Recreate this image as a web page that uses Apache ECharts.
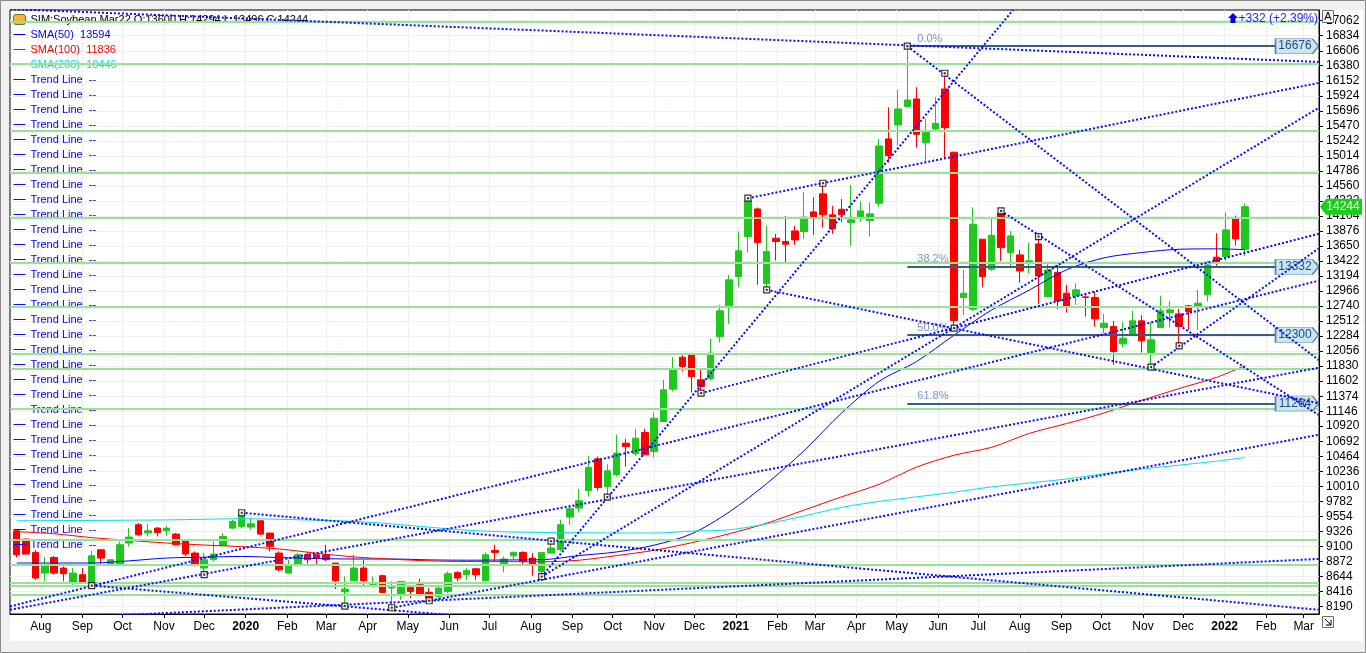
<!DOCTYPE html>
<html><head><meta charset="utf-8">
<script src="https://cdn.jsdelivr.net/npm/echarts@6/dist/echarts.min.js"></script>
<style>html,body{margin:0;padding:0;background:#f0f0f0;}#c{width:1366px;height:653px;}</style>
</head><body><div id="c"></div>
<script>
// ---------------- DATA ----------------
const firstCandle = '2019-07-14';   // weekly candles
const opens  = [9336,9210,9008,8695,8932,8771,8554,8670,8554,9048,8831,8831,9149,9427,9301,9376,9336,9285,9190,8998,8771,8897,9114,9376,9402,9391,9487,9301,8998,8695,8821,8973,8973,8973,8846,8412,8579,8771,8508,8655,8468,8382,8478,8518,8402,8342,8417,8705,8670,8760,8579,9038,8836,8957,9008,8922,8720,8998,9048,9543,9679,9946,10426,10007,10184,10663,10502,10825,10537,10991,11481,11965,12000,11622,11638,12278,12743,13187,13793,14211,13076,13768,13717,13878,13868,14166,14439,14121,14206,14005,14095,14035,14297,15271,15483,15760,15876,15215,15422,16028,15069,12868,12692,13752,13297,14145,13550,13514,13388,13681,12884,13247,12934,12894,12879,12868,12415,12430,12167,12293,12516,12036,12415,12642,12621,12743,12733,12909,13480,13489,14060,13600];
const highs  = [9361,9220,9048,8937,8957,8796,8771,8771,9033,9048,8897,9174,9376,9452,9442,9391,9412,9301,9200,9023,8998,9174,9301,9502,9609,9528,9487,9301,9023,8897,8998,9023,8973,9124,8846,8645,8973,8897,8645,8670,8569,8569,8518,8609,8468,8483,8720,8720,8771,8771,9008,9124,8947,9023,9023,8998,9008,9178,9502,9729,9972,10471,10461,10345,10789,10729,10880,10880,11127,11622,11965,12000,12000,11774,12243,12758,13212,13868,14373,14232,13954,13833,14106,13954,14469,14388,14600,14257,14363,14575,14323,14307,15271,15750,16013,16676,16053,15573,15902,16266,15080,13287,14236,13752,14085,14181,13878,13590,13701,13792,13378,13363,13060,13085,12934,12960,12621,12516,12495,12667,12601,12490,12894,12818,12697,12758,12985,13424,13843,14156,14110,14294];
const lows   = [8937,8975,8594,8569,8670,8569,8518,8544,8505,8821,8821,8821,9099,9260,9250,9250,9260,9124,8947,8796,8670,8872,9114,9361,9376,9351,9275,9023,8720,8685,8796,8836,8821,8872,8453,8195,8569,8503,8493,8392,8170,8291,8316,8342,8276,8301,8392,8569,8594,8594,8569,8871,8705,8897,8821,8654,8640,8998,9023,9426,9613,9856,9941,9846,10158,10310,10471,10486,10446,10991,11445,11748,11430,11420,11612,12188,12470,13020,13550,13061,12985,13429,13399,13666,13757,13818,13929,13833,14010,13651,14020,13793,14246,14912,15170,15745,15139,14912,15392,14978,12405,12606,12666,13020,13272,13424,13338,13095,13237,12772,12868,12697,12641,12757,12581,12430,12329,11849,12112,12293,12036,11814,12415,12415,12137,12379,12379,12808,13348,13424,13656,13496];
const closes = [8973,8983,8619,8821,8695,8685,8695,8554,8957,8922,8897,9124,9240,9275,9336,9311,9376,9124,8983,8821,8897,8983,9250,9477,9578,9442,9285,9099,8745,8806,8973,8897,8922,8897,8579,8453,8771,8579,8518,8402,8478,8569,8417,8367,8316,8468,8685,8619,8735,8670,8973,9008,8907,9008,8871,8811,9008,9074,9427,9669,9790,10295,9992,10244,10512,10613,10739,10486,11041,11471,11783,11824,11672,11522,12026,12667,13137,13576,14333,13702,13565,13717,13677,13742,14085,14095,14121,13909,14121,14045,14181,14136,15165,15018,15725,15861,15341,15372,15508,15442,12520,12934,13979,13186,13812,13625,13802,13272,13424,13196,13287,12818,12732,12985,12869,12545,12480,12051,12253,12516,12213,12228,12667,12682,12430,12657,12783,13363,13399,13893,13757,14244];

// moving averages, read at every 4th candle (candle index)
const smaIdx = [0,4,8,12,16,20,24,28,32,36,40,44,48,52,56,60,64,68,72,76,80,84,88,92,96,100,104,108,112,116,120,124,128,131];
const sma50  = [8847,8847,8847,8880,8923,8935,8947,8930,8915,8908,8908,8895,8890,8893,8897,8960,9015,9118,9290,9620,10050,10550,11120,11600,11900,12300,12680,12980,13290,13470,13550,13600,13606,13594];
const sma100 = [9322,9290,9232,9190,9150,9120,9095,9060,8995,8940,8905,8880,8870,8868,8866,8890,8960,9040,9155,9290,9450,9650,9850,10040,10300,10480,10600,10810,10960,11120,11310,11490,11660,11836];
const sma200 = [9488,9490,9492,9496,9500,9510,9518,9510,9495,9478,9440,9390,9345,9320,9310,9305,9302,9301,9330,9350,9440,9560,9690,9780,9850,9920,10000,10060,10120,10200,10270,10330,10390,10446];

// horizontal support / resistance levels (green)
const greenLevels = [17045,16406,15392,14752,14070,13394,12723,12023,11797,11179,9194,8814,8547,8503,8367];
// fibonacci retracement (start candle index, level, label)
const fibStartIdx = 95;
const fibLevels = [16676,13332,12300,11264];
const fibNames  = ['0.0%','38.2%','50.0%','61.8%'];
// trend-line anchor squares: [candle index, 'H' | 'L']
const anchors = [[8,'L'],[20,'L'],[24,'H'],[35,'L'],[40,'L'],[44,'L'],[56,'L'],[57,'H'],[63,'L'],[73,'L'],[78,'H'],[80,'L'],[86,'H'],[95,'H'],[99,'H'],[100,'L'],[105,'H'],[109,'H'],[121,'L'],[124,'L']];
// trend lines: [[date, value], [date, value]]
const trendLines = [
  [['2019-07-09',17239],['2022-03-12',16437]],
  [['2021-05-09',16676],['2022-03-12',11925]],
  [['2021-01-10',14373],['2022-03-12',16119]],
  [['2021-01-24',12985],['2022-03-12',11267]],
  [['2020-08-09',8640],['2021-07-27',17224]],
  [['2020-08-09',8640],['2022-03-12',15740]],
  [['2020-12-06',11421],['2022-03-12',13833]],
  [['2019-12-29',9609],['2022-03-12',8139]],
  [['2019-07-09',8139],['2022-03-12',11804]],
  [['2019-07-09',7978],['2022-03-12',8909]],
  [['2020-04-19',8170],['2022-03-12',10789]],
  [['2019-07-09',8190],['2022-03-12',13122]],
  [['2021-07-18',14181],['2022-03-12',11092]],
  [['2019-09-08',8505],['2020-06-01',8061]],
  [['2021-11-07',11814],['2022-03-12',13610]]
];
const trendLegendCount = 32;
const yTicks = [8190,8416,8644,8872,9100,9326,9554,9782,10010,10236,10464,10692,10920,11146,11374,11602,11830,12056,12284,12512,12740,12966,13194,13422,13650,13876,14104,14332,14560,14786,15014,15242,15470,15696,15924,16152,16380,16606,16834,17062];
const xTickDates = ['2019-08-01','2019-09-01','2019-10-01','2019-11-01','2019-12-01','2020-01-01','2020-02-01','2020-03-01','2020-04-01','2020-05-01','2020-06-01','2020-07-01','2020-08-01','2020-09-01','2020-10-01','2020-11-01','2020-12-01','2021-01-01','2021-02-01','2021-03-01','2021-04-01','2021-05-01','2021-06-01','2021-07-01','2021-08-01','2021-09-01','2021-10-01','2021-11-01','2021-12-01','2022-01-01','2022-02-01','2022-03-01'];
const monthNames = ['Jan','Feb','Mar','Apr','May','Jun','Jul','Aug','Sep','Oct','Nov','Dec'];
const lastQuote = {o:13600,h:14294,l:13496,c:14244,chg:'+332 (+2.39%)'};
const smaLast = {s50:13594,s100:11836,s200:10446};

// ---------------- BUILD ----------------
const FONT = '"Liberation Sans", Arial, sans-serif';
const DAY = 86400000;
function d(s){const p=s.split('-').map(Number);return Date.UTC(p[0],p[1]-1,p[2]);}
const X_MIN = d('2019-07-09');
const X_MAX = d('2022-03-12') + 10*3600000;
const Y_MIN = 8075, Y_MAX = 17224;
const t0 = d(firstCandle);
const dates = opens.map((_,i)=> t0 + i*7*DAY);
const candleData = opens.map((o,i)=>[dates[i], o, closes[i], lows[i], highs[i]]);
const smaSeries = arr => smaIdx.map((k,j)=>[dates[k], arr[j]]);
const anchorData = anchors.map(([k,w])=>[dates[k], w==='H'?highs[k]:lows[k]]);
const xTickVals = xTickDates.map(d);

const TL_COLOR = '#0a0aff';
const series = [];
series.push({
  name:'SIM:Soybean Mar22', type:'candlestick', data:candleData, encode:{x:0,y:[1,2,3,4]},
  barWidth:7, z:2,
  itemStyle:{color:'#1ec81e',color0:'#ff0000',borderColor:'#1ec81e',borderColor0:'#ff0000',borderWidth:1}
});
series.push({
  name:'levels', type:'line', data:[], z:3, silent:true,
  markLine:{silent:true, symbol:['none','none'], animation:false, label:{show:false},
    lineStyle:{color:'#97e497', width:2, type:'solid'},
    data: greenLevels.map(v=>({yAxis:v}))}
});
const smaDefs = [['SMA(50)',sma50,'#0000ff'],['SMA(100)',sma100,'#ff0000'],['SMA(200)',sma200,'#00e3e3']];
smaDefs.forEach(([n,arr,c])=>series.push({name:n,type:'line',data:smaSeries(arr),showSymbol:false,smooth:0.3,z:4,
  lineStyle:{color:c,width:1},itemStyle:{color:c}}));
for(let k=0;k<trendLegendCount;k++){
  const tl = trendLines[k];
  series.push({name:'Trend Line '+(k+1), type:'line', z:5, showSymbol:false,
    data: tl ? tl.map(([s,v])=>[d(s),v]) : [],
    lineStyle:{color:TL_COLOR,width:2,type:[2,2]}, itemStyle:{color:TL_COLOR}});
}
series.push({
  name:'fib', type:'line', data:[], z:6, silent:true,
  markLine:{silent:true, symbol:['none','none'], animation:false,
    lineStyle:{color:'#3b5c85', width:2, type:'solid'},
    label:{show:true, position:'insideStartTop', formatter:p=>p.name, color:'#7b98bd', fontSize:11, fontFamily:FONT, distance:[10,2]},
    data: fibLevels.map((v,i)=>[{name:fibNames[i],coord:[dates[fibStartIdx],v]},{coord:[X_MAX,v]}])}
});
series.push({
  name:'tags', type:'line', data:[], z:8, silent:true, clip:false,
  markPoint:{silent:true, animation:false,
    data: fibLevels.map(v=>({coord:[X_MAX,v], value:v,
        symbol:'path://M0,0 L37,0 L43,7.5 L37,15 L0,15 Z', symbolSize:[43,15], symbolOffset:[-22,0], symbolKeepAspect:false,
        itemStyle:{color:'#c9e6f5',borderColor:'#5a7ea5',borderWidth:1},
        label:{show:true,position:'inside',formatter:String(v),color:'#2a4b74',fontSize:12,fontFamily:FONT,offset:[-2,0]}}))
      .concat([{coord:[X_MAX,lastQuote.c], value:lastQuote.c,
        symbol:'path://M0,8 L6,0 L42,0 L42,16 L6,16 Z', symbolSize:[42,16], symbolOffset:[22,0], symbolKeepAspect:false,
        itemStyle:{color:'#1ccc1c'},
        label:{show:true,position:'inside',formatter:String(lastQuote.c),color:'#fff',fontSize:12,fontFamily:FONT,offset:[2,0]}}])}
});
series.push({name:'anchors', type:'scatter', data:anchorData, symbol:'rect', symbolSize:6, z:9, silent:true,
  itemStyle:{color:'#fff',borderColor:'#000',borderWidth:1.2}});
series.push({name:'anchorDots', type:'scatter', data:anchorData, symbol:'rect', symbolSize:2, z:10, silent:true,
  itemStyle:{color:'#000'}});

const LINE_ICON = 'path://M0,0 L12,0 L12,1 L0,1 Z';
const legendText = {
  'SIM:Soybean Mar22': `SIM:Soybean Mar22 O:${lastQuote.o} H:${lastQuote.h} L:${lastQuote.l} C:${lastQuote.c}`,
  'SMA(50)': `SMA(50)  ${smaLast.s50}`, 'SMA(100)': `SMA(100)  ${smaLast.s100}`, 'SMA(200)': `SMA(200)  ${smaLast.s200}`
};
const legendData = [
  {name:'SIM:Soybean Mar22', icon:'roundRect', itemStyle:{color:'#f2b73a',borderColor:'#8c6412',borderWidth:1}, textStyle:{color:'#000'}},
  {name:'SMA(50)', icon:LINE_ICON, itemStyle:{color:'#0000ff'}, textStyle:{color:'#0000ff'}},
  {name:'SMA(100)', icon:LINE_ICON, itemStyle:{color:'#ff0000'}, textStyle:{color:'#ff0000'}},
  {name:'SMA(200)', icon:LINE_ICON, itemStyle:{color:'#00e3e3'}, textStyle:{color:'#00e3e3'}}
];
for(let k=0;k<trendLegendCount;k++) legendData.push({name:'Trend Line '+(k+1), icon:LINE_ICON, itemStyle:{color:TL_COLOR}, textStyle:{color:'#0000ff'}});

const option = {
  animation:false,
  backgroundColor:'#f0f0f0',
  grid:{left:10, top:10, right:47, bottom:39, show:true, borderColor:'#000', borderWidth:1, backgroundColor:'#fff'},
  legend:{left:13, top:12, padding:0, orient:'vertical', itemGap:0, itemWidth:12, itemHeight:10, selectedMode:false,
    textStyle:{fontSize:11, fontFamily:FONT, lineHeight:15, height:15, padding:0},
    formatter:n=> legendText[n] || 'Trend Line  --', data:legendData},
  xAxis:{type:'value', min:X_MIN, max:X_MAX,
    axisLine:{show:true,lineStyle:{color:'#000'}},
    axisTick:{show:true,length:4,customValues:xTickVals,lineStyle:{color:'#000'}},
    axisLabel:{customValues:xTickVals, color:'#000', fontSize:12, fontFamily:FONT, margin:7, hideOverlap:false,
      formatter:v=>{const dt=new Date(v);const m=dt.getUTCMonth();return m===0?'{b|'+dt.getUTCFullYear()+'}':monthNames[m];},
      rich:{b:{fontWeight:'bold',fontSize:12,fontFamily:FONT,color:'#000'}}},
    splitLine:{show:true,lineStyle:{color:'#efefef',width:1}}},
  yAxis:{type:'value', position:'right', min:Y_MIN, max:Y_MAX, scale:true,
    axisLine:{show:true,lineStyle:{color:'#000'}},
    axisTick:{show:true,length:4,customValues:yTicks,lineStyle:{color:'#000'}},
    axisLabel:{customValues:yTicks, fontSize:12, fontFamily:FONT, margin:7, hideOverlap:false,
      formatter:v=>String(v), color:(v)=> (v===yTicks[0]||v===yTicks[yTicks.length-1])?'#b4b4b4':'#000'},
    splitLine:{show:true,lineStyle:{color:'#efefef',width:1}}},
  graphic:[
    {type:'rect', z:-100, silent:true, shape:{x:10,y:10,width:1353,height:631}, style:{fill:'#fff'}},
    {type:'rect', z:100, silent:true, shape:{x:0.5,y:0.5,width:1365,height:652}, style:{fill:'none',stroke:'#8a8a8a',lineWidth:1}},
    {type:'rect', z:100, silent:true, shape:{x:1322.5,y:10.5,width:11,height:12}, style:{fill:'#f4f4f4',stroke:'#707070',lineWidth:1}},
    {type:'text', z:101, silent:true, x:1328, y:17, style:{text:'A',font:'11px '+FONT,fill:'#000',align:'center',verticalAlign:'middle'}},
    {type:'rect', z:100, silent:true, shape:{x:1322.5,y:616.5,width:11,height:11}, style:{fill:'#f4f4f4',stroke:'#707070',lineWidth:1}},
    {type:'polyline', z:101, silent:true, shape:{points:[[1325,619],[1331,625]]}, style:{stroke:'#000',lineWidth:1}},
    {type:'polyline', z:101, silent:true, shape:{points:[[1326,625],[1331,625],[1331,620]]}, style:{stroke:'#000',lineWidth:1,fill:'none'}},
    {type:'polygon', z:101, silent:true, shape:{points:[[1233,13],[1238,18],[1235.5,18],[1235.5,23],[1230.5,23],[1230.5,18],[1228,18]]}, style:{fill:'#0000ee'}},
    {type:'text', z:101, silent:true, x:1318, y:19, style:{text:lastQuote.chg,font:'12px '+FONT,fill:'#1c1cff',align:'right',verticalAlign:'middle'}}
  ],
  series:series
};
const chart = echarts.init(document.getElementById('c'), null, {renderer:'canvas'});
chart.setOption(option);
</script></body></html>
